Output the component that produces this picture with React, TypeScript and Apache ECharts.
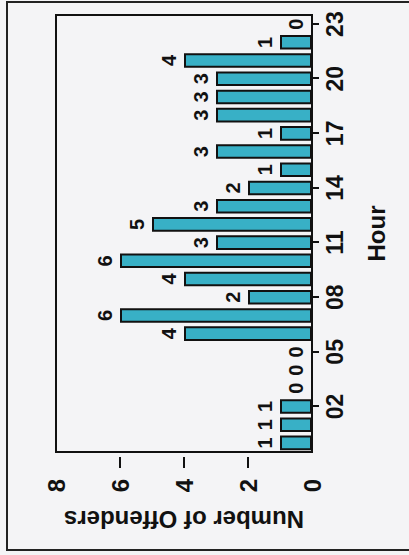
import React, { useEffect, useRef } from 'react';
import * as echarts from 'echarts';

const hours = ['00', '01', '02', '03', '04', '05', '06', '07', '08', '09', '10', '11', '12', '13', '14', '15', '16', '17', '18', '19', '20', '21', '22', '23'];
const offenders = [1, 1, 1, 0, 0, 0, 4, 6, 2, 4, 6, 3, 5, 3, 2, 1, 3, 1, 3, 3, 3, 4, 1, 0];
const valueMin = 0;
const valueMax = 8;
const valueStep = 2;
const innerTicks = [2, 4, 6];

export default function App() {
  const ref = useRef<HTMLDivElement>(null);
  useEffect(() => {
    const chart = echarts.init(ref.current!, null, { renderer: 'svg' });
    const ink = '#111';
    const font = 'Liberation Sans, Arial, sans-serif';
    chart.setOption({
      animation: false,
      backgroundColor: '#f4f4f6',
      textStyle: { fontFamily: font },
      grid: {
        left: 103, right: 15, top: 56, bottom: 97,
        show: true, borderColor: ink, borderWidth: 2, backgroundColor: 'transparent',
      },
      xAxis: {
        type: 'category',
        data: hours,
        name: 'Hour',
        nameLocation: 'middle',
        nameGap: 52,
        nameTextStyle: { fontSize: 24, fontWeight: 'bold', color: ink, fontFamily: font },
        axisLine: { show: true, lineStyle: { color: ink, width: 2 } },
        axisTick: { show: true, alignWithLabel: true, interval: (i: number) => i % 3 === 2, length: 7, lineStyle: { color: ink, width: 2 } },
        axisLabel: { interval: (i: number) => i % 3 === 2, fontSize: 23, fontWeight: 'bold', color: ink, margin: 11, fontFamily: font },
      },
      yAxis: {
        type: 'value',
        min: valueMin,
        max: valueMax,
        interval: valueStep,
        offset: 5,
        name: 'Number of Offenders',
        nameLocation: 'middle',
        nameGap: 50,
        nameTextStyle: { fontSize: 24, fontWeight: 'bold', color: ink, fontFamily: font },
        axisLine: { show: false },
        axisTick: { show: true, length: 11, customValues: innerTicks, lineStyle: { color: ink, width: 2 } },
        axisLabel: { fontSize: 24, fontWeight: 'bold', color: ink, margin: 22, fontFamily: font },
        splitLine: { show: false },
      },
      series: [
        {
          type: 'bar',
          data: offenders,
          barWidth: '80%',
          itemStyle: { color: '#38b0c6', borderColor: ink, borderWidth: 2 },
          label: { show: true, position: 'top', distance: 5, fontSize: 20, fontWeight: 'bold', color: ink, fontFamily: font },
        },
      ],
      graphic: [
        { type: 'rect', silent: true, shape: { x: 5, y: 7, width: 548, height: 420 }, style: { fill: 'none', stroke: '#222', lineWidth: 2 } },
      ],
    });
    return () => chart.dispose();
  }, []);
  return (
    <div style={{ position: 'fixed', left: 0, top: 0, width: 409, height: 555, overflow: 'hidden', background: '#f4f4f6' }}>
      <div
        ref={ref}
        style={{ position: 'absolute', left: 0, top: 0, width: 555, height: 409, transformOrigin: '0 0', transform: 'translate(0px, 555px) rotate(-90deg)' }}
      />
    </div>
  );
}
